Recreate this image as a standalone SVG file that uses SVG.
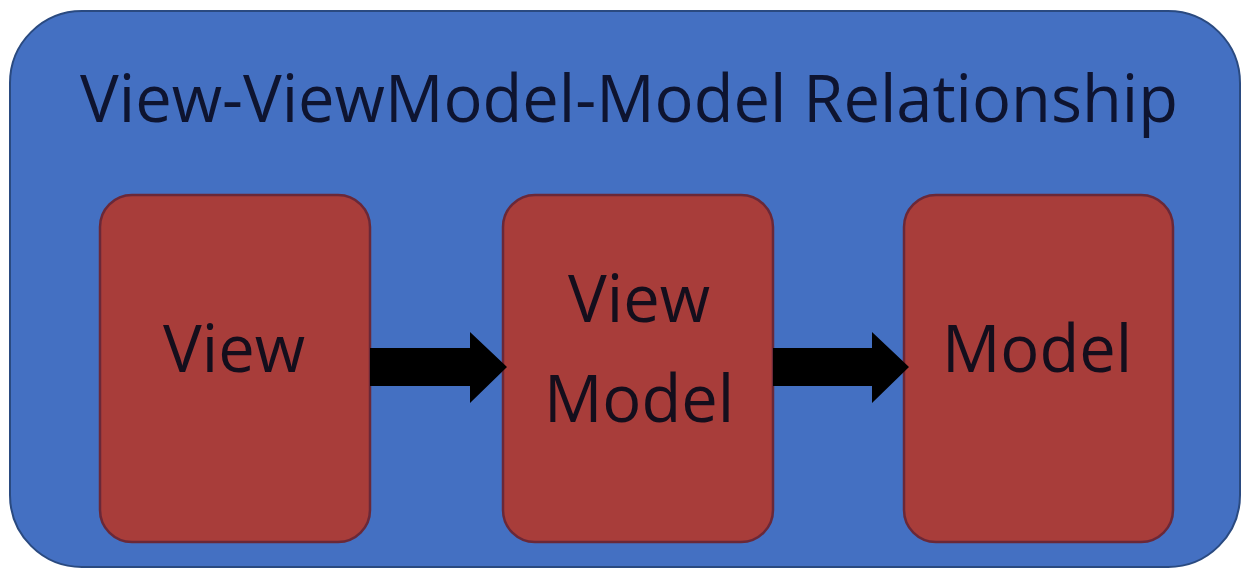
<svg xmlns="http://www.w3.org/2000/svg" width="1250" height="572" viewBox="0 0 1250 572">
<style>
.outer{fill:#4470C2;stroke:#2a4a80;stroke-width:2}
.node{fill:#A83D3A;stroke:#6a2838;stroke-width:2.5}
.t{font-family:"Open Sans","Noto Sans",sans-serif;fill:#140e1c}
.title{font-family:"Open Sans","Noto Sans",sans-serif;fill:#0e1430}
.arrow{fill:#000}
</style>
<rect width="1250" height="572" fill="#ffffff"/>
<rect class="outer" x="10" y="11" width="1230" height="556" rx="72" ry="72"/>
<text class="title" x="629" y="122" font-size="65" text-anchor="middle">View-ViewModel-Model Relationship</text>
<g id="view">
<rect class="node" x="100" y="195" width="270" height="347" rx="32" ry="32"/>
<text class="t" x="234" y="372" font-size="65" text-anchor="middle">View</text>
</g>
<g id="viewmodel">
<rect class="node" x="503" y="195" width="270" height="347" rx="32" ry="32"/>
<text class="t" x="639" y="322" font-size="65" text-anchor="middle">View</text>
<text class="t" x="639" y="422" font-size="65" text-anchor="middle">Model</text>
</g>
<g id="model">
<rect class="node" x="904" y="195" width="269" height="347" rx="32" ry="32"/>
<text class="t" x="1037" y="372" font-size="65" text-anchor="middle">Model</text>
</g>
<g id="connectors">
<polygon class="arrow" points="370,348 470,348 470,332 507,367 470,403 470,386 370,386"/>
<polygon class="arrow" points="773,348 872,348 872,332 909,367 872,403 872,386 773,386"/>
</g>
</svg>
